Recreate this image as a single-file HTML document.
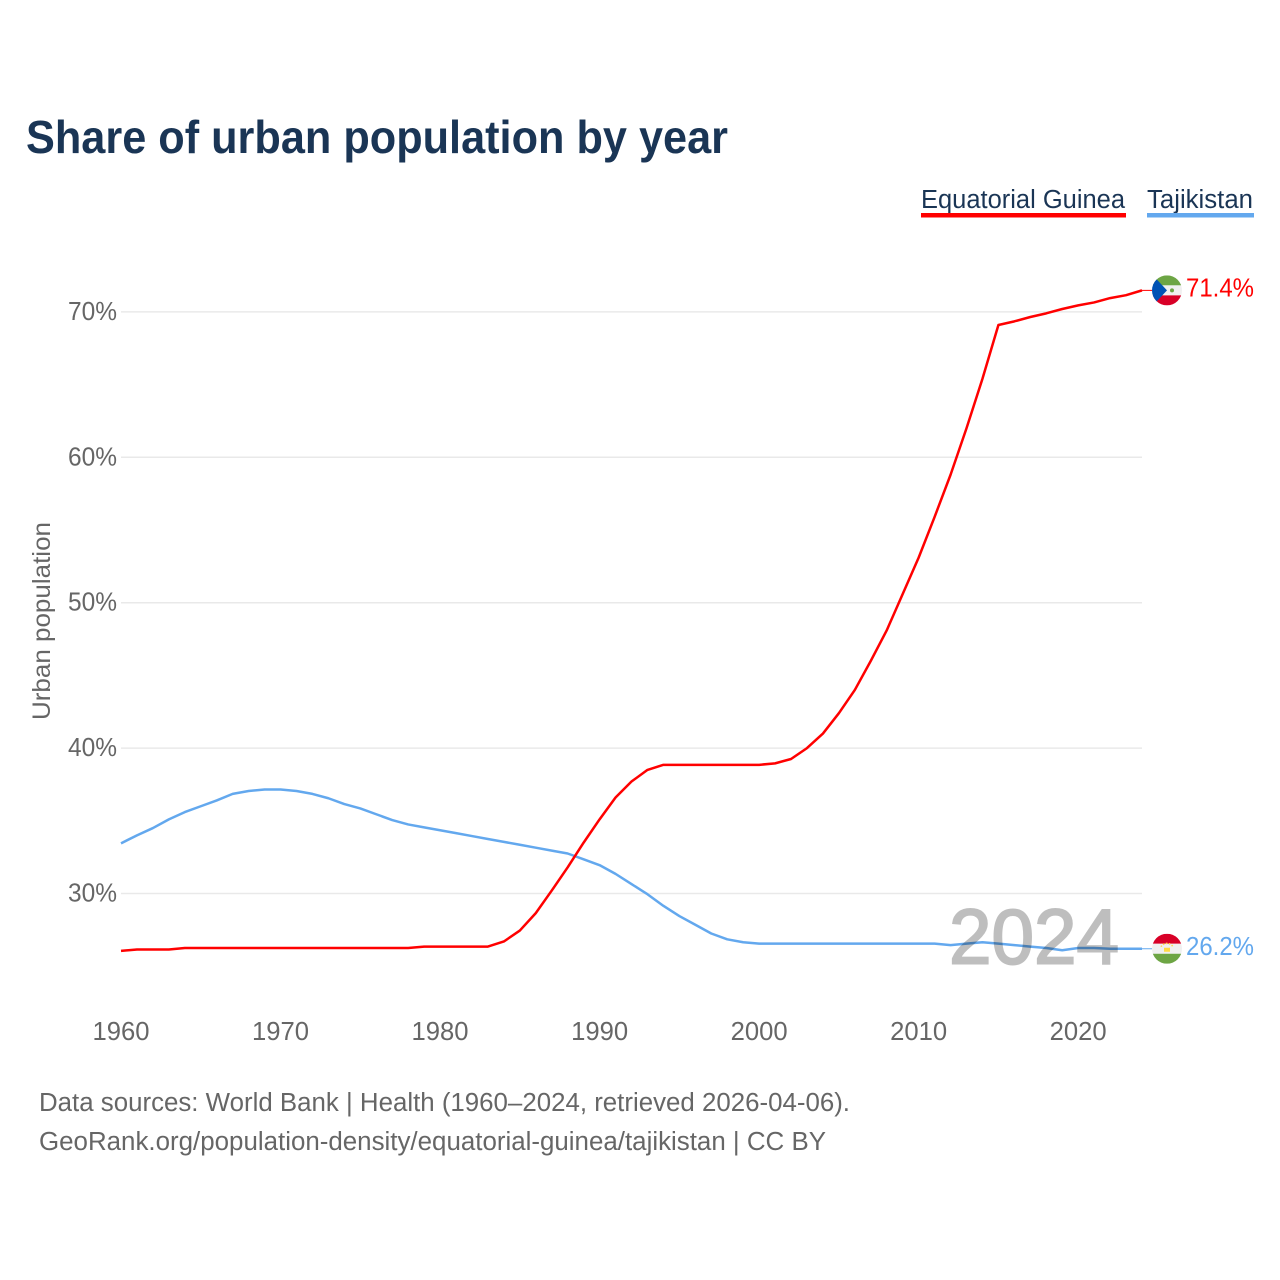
<!DOCTYPE html>
<html lang="en">
<head>
<meta charset="utf-8">
<title>Share of urban population by year</title>
<style>
html,body{margin:0;padding:0;background:#fff;}
svg{display:block;}
text{font-family:"Liberation Sans",Arial,sans-serif;}
</style>
</head>
<body>
<svg id="chart" xmlns="http://www.w3.org/2000/svg" width="1280" height="1280" viewBox="0 0 1280 1280">
  <defs>
    <clipPath id="clip-eg"><circle cx="0" cy="0" r="15"/></clipPath>
    <clipPath id="clip-tj"><circle cx="0" cy="0" r="15"/></clipPath>
  </defs>
  <rect x="0" y="0" width="1280" height="1280" fill="#ffffff"/>
  <text x="26" y="153" font-size="46" font-weight="700" fill="#1a3555" textLength="702" lengthAdjust="spacingAndGlyphs">Share of urban population by year</text>

  <g>
    <text x="921" y="208" font-size="25.5" fill="#1a3555" textLength="204" lengthAdjust="spacingAndGlyphs">Equatorial Guinea</text>
    <rect x="921" y="213" width="205" height="4.5" fill="#ff0000"/>
  </g>
  <g>
    <text x="1147" y="208" font-size="25.5" fill="#1a3555" textLength="106" lengthAdjust="spacingAndGlyphs">Tajikistan</text>
    <rect x="1147" y="213" width="107" height="4.5" fill="#63a8ee"/>
  </g>

  <text transform="translate(50,720) rotate(-90)" x="0" y="0" font-size="25" fill="#666666" textLength="198" lengthAdjust="spacingAndGlyphs">Urban population</text>

  <g id="grid"></g>
  <g id="y-ticks"></g>
  <g id="x-ticks"></g>
  <g id="series"></g>
  <g id="end-labels"></g>

  <g id="flag-eg">
    <g clip-path="url(#clip-eg)">
      <rect x="-15" y="-15" width="30" height="10" fill="#6da544"/>
      <rect x="-15" y="-5" width="30" height="10" fill="#f0f0f0"/>
      <rect x="-15" y="5" width="30" height="10" fill="#d80027"/>
      <polygon points="-15,-16 0,0 -15,16" fill="#0052b4"/>
      <circle cx="5" cy="0" r="2" fill="#6da544"/>
    </g>
  </g>
  <g id="flag-tj">
    <g clip-path="url(#clip-tj)">
      <rect x="-15" y="-15" width="30" height="10" fill="#d80027"/>
      <rect x="-15" y="-5" width="30" height="10" fill="#f0f0f0"/>
      <rect x="-15" y="5" width="30" height="10" fill="#6da544"/>
      <rect x="-3" y="-1" width="6" height="4" fill="#ffda44"/>
      <path d="M-6,-2 A7,7 0 0 1 6,-2" fill="none" stroke="#ffda44" stroke-width="1.5" stroke-dasharray="1.5 1.5"/>
    </g>
  </g>

  <text x="949" y="963.5" font-size="78" font-weight="400" fill="#000000" stroke="#000000" stroke-width="2" opacity="0.25" textLength="170" lengthAdjust="spacingAndGlyphs">2024</text>

  <text x="39" y="1111" font-size="25.5" fill="#666666" textLength="811" lengthAdjust="spacingAndGlyphs">Data sources: World Bank | Health (1960–2024, retrieved 2026-04-06).</text>
  <text x="39" y="1150" font-size="25.5" fill="#666666" textLength="787" lengthAdjust="spacingAndGlyphs">GeoRank.org/population-density/equatorial-guinea/tajikistan | CC BY</text>
</svg>
<script>
const years = [1960,1961,1962,1963,1964,1965,1966,1967,1968,1969,1970,1971,1972,1973,1974,1975,1976,1977,1978,1979,1980,1981,1982,1983,1984,1985,1986,1987,1988,1989,1990,1991,1992,1993,1994,1995,1996,1997,1998,1999,2000,2001,2002,2003,2004,2005,2006,2007,2008,2009,2010,2011,2012,2013,2014,2015,2016,2017,2018,2019,2020,2021,2022,2023,2024];
const equatorialGuinea = [26.05,26.15,26.15,26.15,26.25,26.25,26.25,26.25,26.25,26.25,26.25,26.25,26.25,26.25,26.25,26.25,26.25,26.25,26.25,26.35,26.35,26.35,26.35,26.35,26.7,27.45,28.65,30.2,31.8,33.5,35.1,36.6,37.7,38.5,38.85,38.85,38.85,38.85,38.85,38.85,38.85,38.95,39.25,40.0,41.0,42.4,44.0,46.0,48.1,50.6,53.1,55.9,58.8,62.0,65.4,69.1,69.35,69.65,69.9,70.2,70.45,70.65,70.95,71.15,71.48];
const tajikistan = [33.45,34.0,34.5,35.1,35.6,36.0,36.4,36.85,37.05,37.15,37.15,37.05,36.85,36.55,36.15,35.85,35.45,35.05,34.75,34.55,34.35,34.15,33.95,33.75,33.55,33.35,33.15,32.95,32.75,32.35,31.95,31.35,30.65,29.95,29.15,28.45,27.85,27.25,26.85,26.65,26.55,26.55,26.55,26.55,26.55,26.55,26.55,26.55,26.55,26.55,26.55,26.55,26.45,26.55,26.65,26.55,26.45,26.35,26.25,26.1,26.25,26.25,26.2,26.2,26.2];
const yTickValues = [30,40,50,60,70];
const yTickLabels = ["30%","40%","50%","60%","70%"];
const xTickValues = [1960,1970,1980,1990,2000,2010,2020];
const xTickLabels = ["1960","1970","1980","1990","2000","2010","2020"];
const printedValues = ["71.4%","26.2%"];

const NS = "http://www.w3.org/2000/svg";
function xScale(year){ return 121 + (year - 1960) * 15.953; }
function yScale(pct){ return 893.5 - (pct - 30) * 14.54; }

const gridGroup = document.getElementById("grid");
const yGroup = document.getElementById("y-ticks");
yTickValues.forEach(function(v, i){
  const line = document.createElementNS(NS, "line");
  
  
  line.setAttribute("x1", xScale(years[0]));
  line.setAttribute("x2", xScale(years[years.length - 1]));
  line.setAttribute("y1", yScale(v));
  line.setAttribute("y2", yScale(v));
  line.setAttribute("stroke", "#e9e9e9");
  line.setAttribute("stroke-width", "1.5");
  gridGroup.appendChild(line);

  const label = document.createElementNS(NS, "text");
  
  
  label.setAttribute("x", 68);
  label.setAttribute("y", yScale(v) + 8);
  label.setAttribute("font-size", "25.5");
  label.setAttribute("fill", "#666666");
  label.setAttribute("textLength", "49");
  label.setAttribute("lengthAdjust", "spacingAndGlyphs");
  label.textContent = yTickLabels[i];
  yGroup.appendChild(label);
});

const xGroup = document.getElementById("x-ticks");
xTickValues.forEach(function(v, i){
  const label = document.createElementNS(NS, "text");
  
  
  label.setAttribute("x", xScale(v) - 28.5);
  label.setAttribute("y", 1040);
  label.setAttribute("font-size", "25.5");
  label.setAttribute("fill", "#666666");
  label.setAttribute("textLength", "57");
  label.setAttribute("lengthAdjust", "spacingAndGlyphs");
  label.textContent = xTickLabels[i];
  xGroup.appendChild(label);
});

function linePath(values){
  return values.map(function(v, i){
    return (i ? "L" : "M") + xScale(years[i]).toFixed(2) + "," + yScale(v).toFixed(2);
  }).join(" ");
}

const seriesGroup = document.getElementById("series");
const labelGroup = document.getElementById("end-labels");
const lastIndex = years.length - 1;

const lineTJ = document.createElementNS(NS, "path");


lineTJ.setAttribute("d", linePath(tajikistan));
lineTJ.setAttribute("fill", "none");
lineTJ.setAttribute("stroke", "#63a8ee");
lineTJ.setAttribute("stroke-width", "2.5");
lineTJ.setAttribute("stroke-linejoin", "round");
seriesGroup.appendChild(lineTJ);

const lineEG = document.createElementNS(NS, "path");


lineEG.setAttribute("d", linePath(equatorialGuinea));
lineEG.setAttribute("fill", "none");
lineEG.setAttribute("stroke", "#ff0000");
lineEG.setAttribute("stroke-width", "2.5");
lineEG.setAttribute("stroke-linejoin", "round");
seriesGroup.appendChild(lineEG);

const yEG = yScale(equatorialGuinea[lastIndex]);
const yTJ = yScale(tajikistan[lastIndex]);
const endX = xScale(years[lastIndex]);

const leaderEG = document.createElementNS(NS, "line");


leaderEG.setAttribute("x1", endX);
leaderEG.setAttribute("x2", 1152);
leaderEG.setAttribute("y1", yEG);
leaderEG.setAttribute("y2", yEG);
leaderEG.setAttribute("stroke", "#ff0000");
leaderEG.setAttribute("stroke-width", "1");
seriesGroup.appendChild(leaderEG);

const leaderTJ = document.createElementNS(NS, "line");


leaderTJ.setAttribute("x1", endX);
leaderTJ.setAttribute("x2", 1152);
leaderTJ.setAttribute("y1", yTJ);
leaderTJ.setAttribute("y2", yTJ);
leaderTJ.setAttribute("stroke", "#63a8ee");
leaderTJ.setAttribute("stroke-width", "1");
seriesGroup.appendChild(leaderTJ);

document.getElementById("flag-eg").setAttribute("transform", "translate(1167," + yEG + ")");
document.getElementById("flag-tj").setAttribute("transform", "translate(1167," + yTJ + ")");

const valueEG = document.createElementNS(NS, "text");


valueEG.setAttribute("x", 1186);
valueEG.setAttribute("y", yEG + 6);
valueEG.setAttribute("font-size", "26");
valueEG.setAttribute("fill", "#ff0000");
valueEG.setAttribute("textLength", "68");
valueEG.setAttribute("lengthAdjust", "spacingAndGlyphs");
valueEG.textContent = printedValues[0];
labelGroup.appendChild(valueEG);

const valueTJ = document.createElementNS(NS, "text");


valueTJ.setAttribute("x", 1186);
valueTJ.setAttribute("y", yTJ + 6);
valueTJ.setAttribute("font-size", "26");
valueTJ.setAttribute("fill", "#63a8ee");
valueTJ.setAttribute("textLength", "68");
valueTJ.setAttribute("lengthAdjust", "spacingAndGlyphs");
valueTJ.textContent = printedValues[1];
labelGroup.appendChild(valueTJ);
</script>
</body>
</html>
